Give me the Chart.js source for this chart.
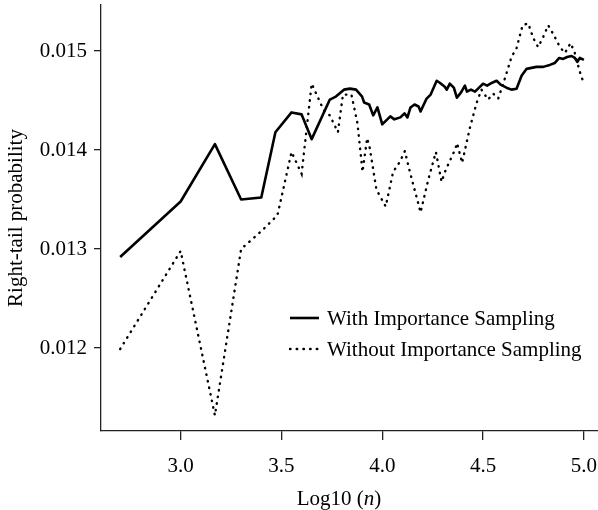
<!DOCTYPE html>
<html>
<head>
<meta charset="utf-8">
<script src="https://cdn.jsdelivr.net/npm/chart.js@4.4.1/dist/chart.umd.min.js"></script>
<style>
  html, body { margin: 0; padding: 0; background: #fff; }
  #wrap { width: 598px; height: 510px; }
</style>
</head>
<body>
<div id="wrap"><canvas id="chart"></canvas></div>
<script>
// Series (x = log10(n), y = right-tail probability)
const seriesNames = ['With Importance Sampling', 'Without Importance Sampling'];

const xWith = [2.70, 3.00, 3.17, 3.30, 3.40, 3.47, 3.55, 3.60, 3.65, 3.74,
  3.77, 3.81, 3.84, 3.87, 3.90, 3.91, 3.935, 3.955, 3.976, 4.00,
  4.02, 4.04, 4.06, 4.09, 4.11, 4.125, 4.14, 4.16, 4.18, 4.19,
  4.22, 4.24, 4.27, 4.285, 4.31, 4.32, 4.335, 4.355, 4.37, 4.39,
  4.41, 4.42, 4.44, 4.46, 4.48, 4.50, 4.52, 4.545, 4.567, 4.587,
  4.616, 4.641, 4.666, 4.691, 4.716, 4.74, 4.765, 4.798, 4.831, 4.856,
  4.878, 4.897, 4.917, 4.939, 4.955, 4.967, 4.98, 5.00];
const pWith = [0.01292, 0.01348, 0.01406, 0.01350, 0.01352, 0.01418, 0.01438, 0.01436, 0.01411, 0.01451,
  0.01454, 0.01461, 0.01462, 0.01461, 0.01454, 0.01448, 0.01446, 0.01435, 0.01443, 0.01426,
  0.01430, 0.01434, 0.01431, 0.01433, 0.01437, 0.01433, 0.01443, 0.01446, 0.01444, 0.01439,
  0.01452, 0.01456, 0.01470, 0.01468, 0.01464, 0.01461, 0.01467, 0.01463, 0.01453, 0.01458,
  0.01465, 0.01459, 0.01461, 0.01459, 0.01463, 0.01467, 0.01465, 0.01468, 0.01470, 0.01466,
  0.01463, 0.01461, 0.01462, 0.01475, 0.01482, 0.01483, 0.01484, 0.01484, 0.01486, 0.01488,
  0.01493, 0.01492, 0.01494, 0.01495, 0.01493, 0.01489, 0.01493, 0.01491];

const xWithout = [2.70, 3.00, 3.17, 3.30, 3.40, 3.48, 3.55, 3.60, 3.65, 3.71,
  3.74, 3.78, 3.805, 3.847, 3.877, 3.902, 3.925, 3.938, 3.971, 4.017,
  4.054, 4.087, 4.112, 4.137, 4.19, 4.228, 4.266, 4.294, 4.315, 4.36,
  4.371, 4.396, 4.434, 4.467, 4.492, 4.525, 4.55, 4.575, 4.60, 4.641,
  4.666, 4.696, 4.724, 4.749, 4.773, 4.798, 4.823, 4.851, 4.881, 4.906,
  4.934, 4.955, 4.98, 5.00];
const pWithout = [0.01199, 0.01298, 0.01132, 0.01300, 0.01318, 0.01334, 0.01398, 0.01376, 0.01467, 0.01440,
  0.01435, 0.01418, 0.01456, 0.01456, 0.01427, 0.01378, 0.01412, 0.01402, 0.01360, 0.01343,
  0.01378, 0.01388, 0.01399, 0.01378, 0.01337, 0.01370, 0.01398, 0.01368, 0.01380, 0.01400,
  0.01407, 0.01387, 0.01422, 0.01447, 0.01461, 0.01451, 0.01457, 0.01452, 0.01467, 0.01494,
  0.01503, 0.01526, 0.01528, 0.01513, 0.01504, 0.01514, 0.01526, 0.01516, 0.01504, 0.01498,
  0.01508, 0.01498, 0.01479, 0.01467];

const xTicks = [3.0, 3.5, 4.0, 4.5, 5.0];
const yTicks = [0.012, 0.013, 0.014, 0.015];

const FONT = "'Liberation Serif', 'DejaVu Serif', serif";
const FS = 21;

function toPoints(xs, ys) {
  return xs.map((x, i) => ({ x: x, y: ys[i] }));
}

// axis titles (x title needs an italic n)
const axisTitles = {
  id: 'axisTitles',
  afterDraw(chart) {
    const ctx = chart.ctx;
    ctx.save();
    ctx.fillStyle = '#000';
    ctx.textBaseline = 'alphabetic';

    const parts = [['Log10 (', ''], ['n', 'italic '], [')', '']];
    let total = 0;
    parts.forEach(p => { ctx.font = p[1] + FS + 'px ' + FONT; total += ctx.measureText(p[0]).width; });
    let x = 339 - total / 2;
    parts.forEach(p => {
      ctx.font = p[1] + FS + 'px ' + FONT;
      ctx.fillText(p[0], x, 505);
      x += ctx.measureText(p[0]).width;
    });

    ctx.translate(22, 218);
    ctx.rotate(-Math.PI / 2);
    ctx.font = FS + 'px ' + FONT;
    ctx.textAlign = 'center';
    ctx.fillText('Right-tail probability', 0, 0);
    ctx.restore();
  }
};

// legend drawn inside the plot area
const innerLegend = {
  id: 'innerLegend',
  afterDatasetsDraw(chart) {
    const ctx = chart.ctx;
    ctx.save();
    chart.data.datasets.forEach((ds, i) => {
      const y = 318 + i * 31;
      ctx.beginPath();
      ctx.lineWidth = ds.borderWidth;
      ctx.lineCap = ds.borderCapStyle || 'butt';
      ctx.setLineDash(ds.borderDash || []);
      ctx.strokeStyle = ds.borderColor;
      ctx.moveTo(290, y);
      ctx.lineTo(319, y);
      ctx.stroke();
      ctx.setLineDash([]);
      ctx.fillStyle = '#000';
      ctx.font = FS + 'px ' + FONT;
      ctx.textBaseline = 'middle';
      ctx.fillText(ds.label, 327, y + 1);
    });
    ctx.restore();
  }
};

new Chart(document.getElementById('chart'), {
  type: 'line',
  data: {
    datasets: [
      {
        label: seriesNames[0],
        data: toPoints(xWith, pWith),
        borderColor: '#000',
        borderWidth: 2.6,
        borderJoinStyle: 'round',
        pointRadius: 0,
        tension: 0,
        fill: false
      },
      {
        label: seriesNames[1],
        data: toPoints(xWithout, pWithout),
        borderColor: '#000',
        borderWidth: 2.4,
        borderDash: [0.5, 6.2],
        borderCapStyle: 'round',
        pointRadius: 0,
        tension: 0,
        fill: false
      }
    ]
  },
  options: {
    responsive: true,
    maintainAspectRatio: false,
    animation: false,
    layout: { padding: { top: 5, right: 0, left: 0, bottom: 0 } },
    plugins: { legend: { display: false }, tooltip: { enabled: false } },
    scales: {
      x: {
        type: 'linear',
        min: 2.605,
        max: 5.07,
        afterBuildTicks: s => { s.ticks = xTicks.map(v => ({ value: v })); },
        afterFit: s => { s.height = 79; s.paddingLeft = 0; s.paddingRight = 0; },
        grid: { drawOnChartArea: false, tickLength: 9, color: '#222', lineWidth: 1.3 },
        border: { color: '#222', width: 1.3 },
        ticks: {
          color: '#000',
          padding: 14,
          maxRotation: 0,
          font: { family: FONT, size: FS },
          callback: v => Number(v).toFixed(1)
        }
      },
      y: {
        min: 0.011162,
        max: 0.015465,
        afterBuildTicks: s => { s.ticks = yTicks.map(v => ({ value: v })); },
        afterFit: s => { s.width = 101; s.paddingTop = 0; s.paddingBottom = 0; },
        grid: { drawOnChartArea: false, tickLength: 7, color: '#222', lineWidth: 1.3 },
        border: { color: '#222', width: 1.3 },
        ticks: {
          color: '#000',
          padding: 7,
          font: { family: FONT, size: FS },
          callback: v => Number(v).toFixed(3)
        }
      }
    }
  },
  plugins: [axisTitles, innerLegend]
});
</script>
</body>
</html>
